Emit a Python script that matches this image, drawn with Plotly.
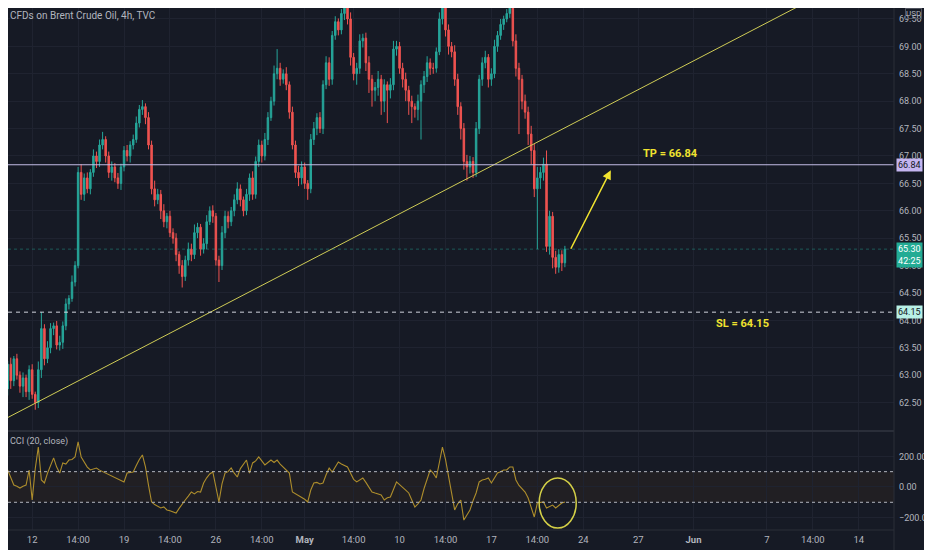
import numpy as np
import plotly.graph_objects as go

# 4h closes, Brent CFD (bar index 0 = Apr 9 afternoon)
closes = [
    63.0, 62.75, 63.2, 62.9, 63.3, 63.0, 62.8, 62.95, 62.7, 63.1,
    62.65, 62.5, 63.1, 63.85, 63.3, 63.5, 63.85, 63.9, 63.55, 63.6,
    63.9, 64.3, 64.4, 64.7, 65.0, 66.7, 66.3, 66.6, 66.4, 66.7,
    67.0, 66.9, 67.2, 67.3, 67.0, 66.7, 66.8, 66.6, 66.5, 66.8,
    67.1, 67.0, 67.2, 67.3, 67.6, 67.85, 67.9, 67.7, 67.2, 66.4,
    66.2, 66.3, 66.0, 65.8, 65.9, 65.6, 65.5, 65.2, 65.0, 64.8,
    65.1, 65.3, 65.2, 65.6, 65.7, 65.3, 65.4, 65.8, 66.0, 65.9,
    65.1, 65.0, 65.6, 65.9, 65.8, 66.0, 66.2, 66.4, 66.2, 66.0,
    66.3, 66.6, 66.3, 66.9, 67.2, 67.0, 67.3, 67.7, 68.0, 68.5,
    68.6, 68.4, 68.5, 68.3, 67.8, 67.2, 66.7, 66.6, 66.8, 66.5,
    66.4, 67.3, 67.5, 67.7, 67.5, 68.3, 68.7, 68.4, 69.2, 69.45,
    69.3, 69.6, 69.7, 69.5, 68.8, 68.5, 68.6, 69.1, 69.15, 68.7,
    68.4, 68.2, 68.25, 68.4, 68.0, 68.3, 68.2, 68.3, 68.95, 69.0,
    68.6, 68.4, 68.2, 68.0, 67.9, 67.85, 68.0, 68.3, 68.45, 68.7,
    68.6, 68.6, 68.9, 69.5, 69.7, 69.3, 69.0, 68.9, 68.4, 67.9,
    67.5, 66.9, 66.8, 66.9, 66.7, 67.5, 68.4, 68.7, 68.8, 68.4,
    68.5, 69.0, 69.2, 69.4, 69.5, 69.6, 69.8, 69.1, 68.6, 68.4,
    68.0, 67.8, 67.4, 67.1, 66.4, 66.6, 66.7, 66.85, 65.35, 65.9,
    65.15, 64.97, 65.2, 65.05, 65.3,
]
first_open = 63.1

# wick lengths above / below the body, in cents
up_wick = [
    8, 10, 6, 12, 5, 9, 7, 10, 6, 8,
    10, 5, 15, 30, 8, 12, 10, 6, 9, 12,
    8, 10, 6, 12, 8, 10, 15, 8, 10, 6,
    12, 8, 10, 14, 6, 8, 10, 7, 9, 6,
    8, 10, 7, 9, 12, 8, 12, 6, 10, 8,
    15, 10, 8, 12, 6, 10, 8, 9, 6, 10,
    8, 12, 10, 15, 8, 6, 10, 12, 8, 10,
    6, 8, 12, 10, 9, 7, 10, 12, 8, 6,
    10, 8, 12, 9, 10, 8, 12, 10, 8, 15,
    35, 10, 8, 12, 6, 10, 8, 12, 10, 8,
    6, 10, 12, 8, 10, 8, 12, 10, 8, 10,
    6, 8, 6, 10, 12, 8, 10, 12, 8, 10,
    12, 8, 10, 15, 8, 10, 6, 12, 15, 10,
    8, 10, 12, 8, 10, 6, 12, 8, 10, 12,
    8, 10, 8, 12, 8, 6, 10, 8, 12, 10,
    8, 10, 12, 10, 8, 12, 8, 10, 12, 6,
    10, 12, 8, 10, 6, 8, 5, 8, 12, 10,
    8, 12, 10, 15, 12, 20, 10, 12, 25, 10,
    8, 12, 10, 8, 6,
]
down_wick = [
    10, 8, 12, 15, 10, 8, 12, 20, 10, 15,
    8, 13, 10, 15, 12, 8, 10, 12, 8, 10,
    12, 8, 10, 6, 8, 5, 10, 12, 8, 10,
    8, 12, 10, 8, 12, 10, 15, 8, 10, 12,
    8, 10, 12, 8, 6, 8, 10, 12, 8, 10,
    12, 8, 15, 10, 12, 8, 10, 12, 15, 20,
    8, 10, 12, 8, 10, 12, 8, 10, 6, 12,
    10, 30, 8, 10, 12, 8, 10, 8, 12, 10,
    8, 12, 10, 8, 10, 12, 8, 10, 6, 8,
    10, 12, 8, 10, 12, 8, 10, 15, 12, 10,
    20, 8, 10, 12, 8, 10, 8, 12, 10, 8,
    10, 8, 12, 10, 15, 12, 20, 10, 12, 15,
    25, 30, 20, 15, 25, 20, 60, 15, 10, 12,
    10, 15, 20, 25, 30, 15, 20, 70, 15, 10,
    12, 10, 8, 6, 10, 12, 15, 10, 12, 15,
    20, 15, 25, 12, 10, 8, 10, 12, 10, 15,
    12, 8, 10, 8, 10, 6, 8, 10, 15, 100,
    15, 12, 20, 25, 15, 110, 20, 15, 10, 15,
    20, 12, 10, 15, 8,
]

# CCI(20, close)
cci = [
    26, 80, 111, 60, 13, 5, -7, 5, 13, 111,
    -85, 120, 261, 46, 26, 90, 140, 190, 130, 91,
    157, 150, 176, 180, 196, 294, 196, 160, 130, 111,
    118, 124, 110, 100, 91, 80, 70, 59, 50, 40,
    33, 91, 95, 98, 140, 180, 209, 131, 10, -98,
    -115, -125, -137, -130, -150, -155, -160, -170, -140, -110,
    -85, -60, -33, -45, -30, -33, 26, 60, 85, 98,
    0, -98, 20, 91, 100, 124, 90, 65, 120, 150,
    176, 91, 157, 170, 196, 170, 144, 160, 176, 160,
    176, 150, 131, 110, 91, -33, -45, -55, -65, -80,
    -98, -20, 26, 30, 20, 26, 80, 124, 98, 130,
    163, 150, 140, 131, 90, 50, 33, 45, 59, 30,
    0, -33, -40, -45, -52, -85, -70, -65, -10, 33,
    15, 0, -20, -39, -80, -131, -110, -85, -10, 59,
    111, 90, 59, 160, 261, 180, 65, -40, -150, -110,
    -85, -216, -180, -150, -90, -39, 33, 45, 50, 59,
    26, 60, 91, 100, 111, 111, 131, 131, 46, 10,
    -10, -33, -72, -130, -196, -105, -100, -98, -137, -125,
    -118, -137, -120, -105, -98,
]

tick_pos = [10, 25, 40, 55, 70, 85, 99, 115, 130, 145, 160, 175, 190, 208, 226, 250, 265, 280]
tick_text = ['12', '14:00', '19', '14:00', '26', '14:00', '<b>May</b>', '14:00', '10', '14:00',
             '17', '14:00', '24', '27', '<b>Jun</b>', '7', '14:00', '14']
price_ticks = [62.5, 63.0, 63.5, 64.0, 64.5, 65.0, 65.5, 66.0, 66.5, 67.0, 67.5, 68.0, 68.5, 69.0, 69.5]
cci_ticks = [-200, 0, 200]
cci_band = [-100, 100]

tp_level = 66.84
sl_level = 64.15
last_price = 65.30
countdown = '42:25'
trend_x = [-0.3, 267.5]
trend_y = [62.16, 69.94]
arrow_from = [185.7, 65.28]
arrow_to = [199.0, 66.74]
circle_x = [175.6, 187.7]
circle_y = [-268, 59]

BG = '#161a25'
GRID = '#1f2330'
TXT = '#b2b5be'
YEL = '#f0e32f'

idx = np.arange(len(closes))
c = np.array(closes)
o = np.array([first_open] + closes[:-1])
h = np.maximum(o, c) + np.array(up_wick) / 100.0
l = np.minimum(o, c) - np.array(down_wick) / 100.0

fig = go.Figure()

fig.add_trace(go.Candlestick(
    x=idx, open=o, high=h, low=l, close=c,
    xaxis='x2', yaxis='y2',
    increasing=dict(line=dict(color='#26a69a', width=1), fillcolor='#26a69a'),
    decreasing=dict(line=dict(color='#ef5350', width=1), fillcolor='#ef5350'),
    whiskerwidth=0, hoverinfo='skip', showlegend=False,
))

# trend line drawing
fig.add_trace(go.Scatter(
    x=trend_x, y=trend_y, xaxis='x2', yaxis='y2', mode='lines',
    line=dict(color='#cfcc56', width=1), hoverinfo='skip', showlegend=False,
))

# CCI pane
fig.add_trace(go.Scatter(
    x=idx, y=cci, xaxis='x', yaxis='y', mode='lines',
    line=dict(color='#ad8d2c', width=1.1), hoverinfo='skip', showlegend=False,
))

shapes = [
    # CCI band
    dict(type='rect', xref='paper', yref='y', x0=0, x1=1, y0=cci_band[0], y1=cci_band[1],
         fillcolor='rgba(255,140,0,0.05)', line=dict(width=0), layer='below'),
    dict(type='line', xref='paper', yref='y', x0=0, x1=1, y0=cci_band[1], y1=cci_band[1],
         line=dict(color=TXT, width=1, dash='3px,3px')),
    dict(type='line', xref='paper', yref='y', x0=0, x1=1, y0=cci_band[0], y1=cci_band[0],
         line=dict(color=TXT, width=1, dash='3px,3px')),
    # TP / SL / last price lines
    dict(type='line', xref='paper', yref='y2', x0=0, x1=1, y0=tp_level, y1=tp_level,
         line=dict(color='#c3bde6', width=1.2)),
    dict(type='line', xref='paper', yref='y2', x0=0, x1=1, y0=sl_level, y1=sl_level,
         line=dict(color='#d1d4dc', width=1, dash='4px,4px')),
    dict(type='line', xref='paper', yref='y2', x0=0, x1=1, y0=last_price, y1=last_price,
         line=dict(color='rgba(38,166,154,0.45)', width=1, dash='dot')),
    # circle on CCI
    dict(type='circle', xref='x', yref='y', x0=circle_x[0], x1=circle_x[1],
         y0=circle_y[0], y1=circle_y[1], line=dict(color='#d3cf47', width=1.5)),
    # pane borders
    dict(type='line', xref='paper', yref='paper', x0=0, x1=1, y0=0.1895, y1=0.1895,
         line=dict(color='#2a2e39', width=2)),
    dict(type='line', xref='paper', yref='paper', x0=1, x1=1, y0=-0.04, y1=1,
         line=dict(color='#2a2e39', width=1)),
    dict(type='line', xref='paper', yref='paper', x0=0, x1=1, y0=0, y1=0,
         line=dict(color='#2a2e39', width=1)),
]

annotations = [
    dict(text='CFDs on Brent Crude Oil, 4h, TVC', xref='paper', yref='paper', x=0.0, y=1.0,
         xanchor='left', yanchor='top', showarrow=False, font=dict(size=10, color=TXT)),
    dict(text='CCI (20, close)', xref='paper', yref='paper', x=0.0, y=0.1686,
         xanchor='left', yanchor='middle', showarrow=False, font=dict(size=9, color=TXT)),
    dict(text='<b>TP = %.2f</b>' % tp_level, x=218.5, y=67.05, xref='x2', yref='y2',
         showarrow=False, font=dict(size=11, color=YEL)),
    dict(text='<b>SL = %.2f</b>' % sl_level, x=242.0, y=63.95, xref='x2', yref='y2',
         showarrow=False, font=dict(size=11, color=YEL)),
    dict(text='', x=arrow_to[0], y=arrow_to[1], ax=arrow_from[0], ay=arrow_from[1],
         xref='x2', yref='y2', axref='x2', ayref='y2', showarrow=True,
         arrowhead=2, arrowsize=1.2, arrowwidth=1.5, arrowcolor=YEL),
    # right axis labels
    dict(text='%.2f' % tp_level, xref='paper', yref='y2', x=1.002, y=tp_level, xanchor='left',
         showarrow=False, bgcolor='#c4b5f0', font=dict(size=9, color='#131722'), borderpad=1),
    dict(text='%.2f' % sl_level, xref='paper', yref='y2', x=1.002, y=sl_level, xanchor='left',
         showarrow=False, bgcolor='#b8f0e6', font=dict(size=9, color='#131722'), borderpad=1),
    dict(text='%.2f<br>%s' % (last_price, countdown), xref='paper', yref='y2', x=1.002,
         y=last_price - 0.1, xanchor='left', showarrow=False, bgcolor='#22ab94',
         font=dict(size=9, color='#ffffff'), borderpad=1),
    dict(text='USD', xref='paper', yref='paper', x=1.012, y=1.0, xanchor='left', yanchor='top',
         showarrow=False, bordercolor='#50535e', borderwidth=1, borderpad=0,
         font=dict(size=8, color=TXT)),
]

fig.update_layout(
    width=924, height=542,
    margin=dict(l=0, r=33, t=0, b=20),
    paper_bgcolor=BG, plot_bgcolor=BG,
    font=dict(family='Roboto', size=9, color=TXT),
    showlegend=False,
    shapes=shapes, annotations=annotations,
    xaxis=dict(domain=[0, 1], anchor='y', range=[2.1, 291.5],
               tickmode='array', tickvals=tick_pos, ticktext=tick_text,
               showgrid=True, gridcolor=GRID, zeroline=False, showline=False,
               ticks='', ticklabelstandoff=2, tickfont=dict(size=9.5, color=TXT),
               rangeslider=dict(visible=False)),
    xaxis2=dict(domain=[0, 1], anchor='y2', matches='x', range=[2.1, 291.5],
                tickmode='array', tickvals=tick_pos, showticklabels=False,
                showgrid=True, gridcolor=GRID, zeroline=False, showline=False,
                rangeslider=dict(visible=False)),
    yaxis=dict(domain=[0, 0.1877], anchor='x', range=[-281, 359], side='right',
               tickmode='array', tickvals=cci_ticks, tickformat='.2f',
               showgrid=True, gridcolor=GRID, zeroline=False, ticks='',
               ticklabelstandoff=4, tickfont=dict(size=9, color=TXT)),
    yaxis2=dict(domain=[0.19, 1], anchor='x2', range=[61.985, 69.70], side='right',
                tickmode='array', tickvals=price_ticks, tickformat='.2f',
                showgrid=True, gridcolor=GRID, zeroline=False, ticks='',
                ticklabelstandoff=4, tickfont=dict(size=9, color=TXT)),
)

fig.write_html("out.html")
